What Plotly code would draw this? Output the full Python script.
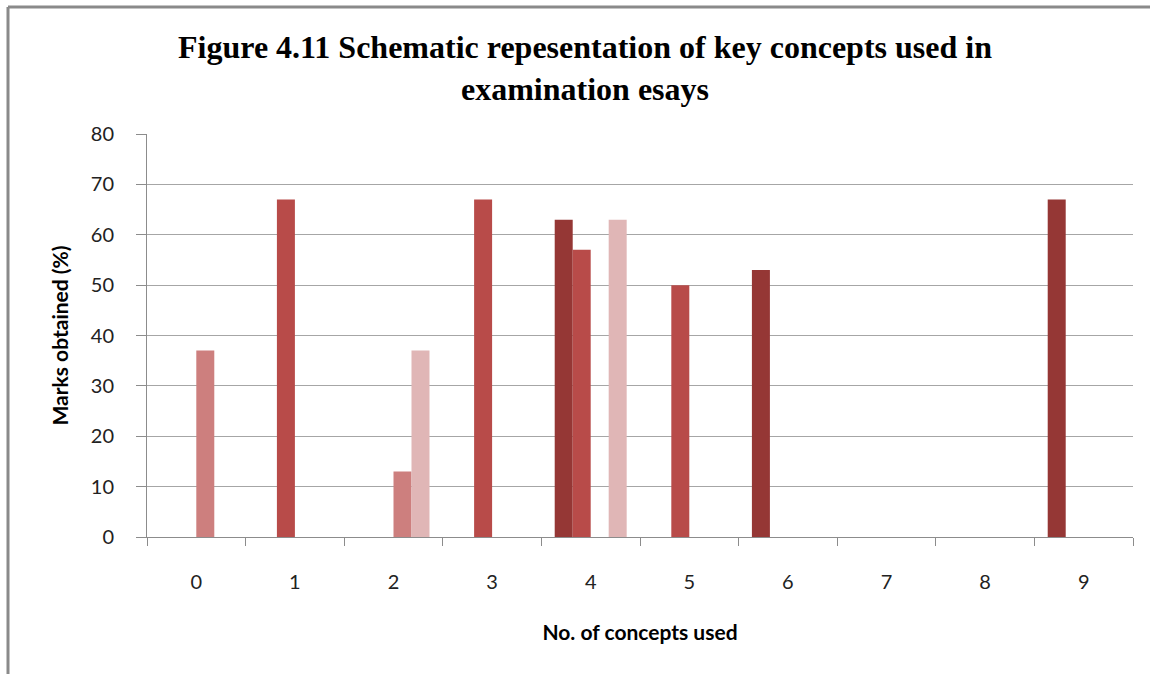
import plotly.graph_objects as go

categories = ["0", "1", "2", "3", "4", "5", "6", "7", "8", "9"]
series1 = [None, None, None, None, 63, None, 53, None, None, 67]
series2 = [None, 67, None, 67, 57, 50, None, None, None, None]
series3 = [37, None, 13, None, None, None, None, None, None, None]
series4 = [None, None, 37, None, 63, None, None, None, None, None]
colors = ["#953735", "#b84b49", "#cd7f7e", "#e0b6b6"]
y_ticks = [0, 10, 20, 30, 40, 50, 60, 70, 80]

W, H = 1150, 674
L, R, T, B = 147, 17, 134, 137
pw, ph = W - L - R, H - T - B

fig = go.Figure()
for vals, col, nm in zip([series1, series2, series3, series4], colors,
                         ["Series1", "Series2", "Series3", "Series4"]):
    fig.add_trace(go.Bar(x=categories, y=vals, name=nm, marker_color=col,
                         marker_line_width=0))

def px_x(p):
    return (p - L) / pw

def px_y(p):
    return (H - B - p) / ph

fig.update_layout(
    width=W, height=H,
    margin=dict(l=L, r=R, t=T, b=B),
    paper_bgcolor="white", plot_bgcolor="white",
    barmode="group", bargap=0.27, bargroupgap=0,
    showlegend=False,
    title=dict(
        text="Figure 4.11 Schematic repesentation of key concepts used in<br>examination esays",
        font=dict(family="Liberation Serif", size=32, color="black", weight="bold"),
        x=585 / W, xanchor="center", xref="container",
        y=1 - 58 / H, yanchor="top", yref="container",
    ),
    font=dict(family="Lato", color="#222"),
    xaxis=dict(
        type="category",
        showline=True, linecolor="#8c8c8c", linewidth=1,
        ticks="outside", tickson="boundaries", ticklen=8, tickcolor="#8c8c8c",
        tickfont=dict(size=20, color="#222"),
        ticklabelstandoff=27,
        showgrid=False,
        title=dict(text="No. of concepts used", standoff=33,
                   font=dict(size=21, weight="bold", color="black")),
    ),
    yaxis=dict(
        range=[0, 80], tickvals=y_ticks,
        showline=True, linecolor="#8c8c8c", linewidth=1,
        ticks="outside", ticklen=10, tickcolor="#8c8c8c",
        tickfont=dict(size=20, color="#222"),
        ticklabelstandoff=18,
        showgrid=True, gridcolor="#a6a6a6", gridwidth=1,
        zeroline=False,
        title=dict(text="Marks obtained (%)", standoff=16,
                   font=dict(size=21, weight="bold", color="black")),
    ),
    shapes=[
        dict(type="line", xref="paper", yref="paper",
             x0=px_x(8), x1=px_x(1152), y0=px_y(7), y1=px_y(7),
             line=dict(color="#8a8a8a", width=3)),
        dict(type="line", xref="paper", yref="paper",
             x0=px_x(8), x1=px_x(8), y0=px_y(7), y1=px_y(676),
             line=dict(color="#8a8a8a", width=3)),
    ],
)

fig.write_html("out.html", config={"displayModeBar": False},
               post_script="document.body.style.margin='0';document.body.style.overflow='hidden';")
